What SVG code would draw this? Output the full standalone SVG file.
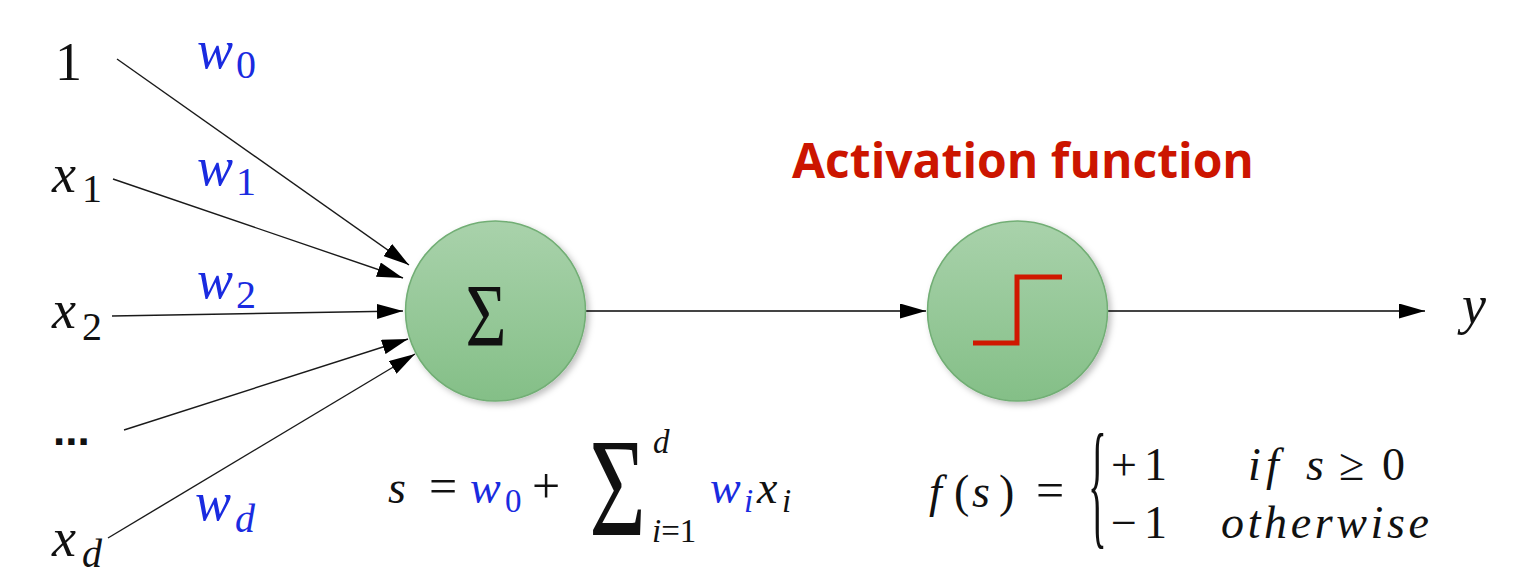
<svg xmlns="http://www.w3.org/2000/svg" width="1517" height="587" viewBox="0 0 1517 587">
<style>
.m{font-family:"Liberation Serif",serif;font-style:italic;fill:#111}
.u{font-family:"Liberation Serif",serif;font-style:normal;fill:#111}
.b{fill:#1a2be0}
.L{font-size:54px}
.S{font-size:40px}
.F{font-size:46px}
.O{font-size:50px}
.fs{font-size:33px}
.ln{stroke:#1a1a1a;stroke-width:1.4;fill:none}
.hl{stroke:#444;stroke-width:2.2;fill:none}
.title{font-family:"Open Sans",sans-serif;font-weight:700;font-size:48px;fill:#cc1500}
</style>
<defs>
<marker id="ah" markerUnits="userSpaceOnUse" markerWidth="26" markerHeight="15" viewBox="0 0 26 15" refX="26" refY="7.5" orient="auto">
<path d="M0,0 L26,7.5 L0,15 z" fill="#000"/>
</marker>
<linearGradient id="g" x1="0" y1="0" x2="0" y2="1">
<stop offset="0" stop-color="#a9d2ab"/>
<stop offset="1" stop-color="#84bf87"/>
</linearGradient>
<filter id="sh" x="-20%" y="-20%" width="140%" height="140%">
<feDropShadow dx="3" dy="3" stdDeviation="3" flood-color="#000" flood-opacity="0.25"/>
</filter>
</defs>

<g id="connectors">
<line class="ln" x1="117" y1="59" x2="409" y2="265" marker-end="url(#ah)"/>
<line class="ln" x1="113" y1="179" x2="403" y2="278" marker-end="url(#ah)"/>
<line class="ln" x1="112" y1="316" x2="403" y2="311" marker-end="url(#ah)"/>
<line class="ln" x1="124" y1="430" x2="408" y2="339" marker-end="url(#ah)"/>
<line class="ln" x1="108" y1="538" x2="415" y2="354" marker-end="url(#ah)"/>
<line class="hl" x1="586" y1="311" x2="926" y2="311" marker-end="url(#ah)"/>
<line class="hl" x1="1108" y1="311" x2="1425" y2="311" marker-end="url(#ah)"/>
</g>

<g id="inputs">
<text class="u L" x="55" y="80">1</text>
<text class="m L" x="52" y="192">x</text><text class="u S" x="82" y="202">1</text>
<text class="m L" x="52" y="328">x</text><text class="u S" x="82" y="340">2</text>
<text x="53" y="445" style="font-family:'Liberation Sans',sans-serif;font-size:44px;font-weight:700;fill:#111">...</text>
<text class="m L" x="52" y="556">x</text><text class="m S" x="82" y="567">d</text>
</g>

<g id="weights">
<text class="m L b" x="197" y="68">w</text><text class="u S b" x="236" y="78">0</text>
<text class="m L b" x="197" y="185">w</text><text class="u S b" x="236" y="195">1</text>
<text class="m L b" x="197" y="298">w</text><text class="u S b" x="236" y="308">2</text>
<text class="m L b" x="195" y="520">w</text><text class="m S b" x="235" y="532">d</text>
</g>

<g id="sum">
<circle cx="495.5" cy="311" r="90" fill="url(#g)" stroke="#72ae75" stroke-width="1.5" filter="url(#sh)"/>
<text class="u" text-anchor="middle" transform="translate(486,345) scale(0.8,1)" style="font-size:88px">Σ</text>
</g>

<g id="activation">
<circle cx="1017.5" cy="311" r="90" fill="url(#g)" stroke="#72ae75" stroke-width="1.5" filter="url(#sh)"/>
<path d="M973,343 H1017 V277 H1062" fill="none" stroke="#d01800" stroke-width="5"/>
</g>

<g id="title">
<text class="title" x="792" y="178">Activation function</text>
</g>

<g id="output">
<text class="m L" x="1462" y="323">y</text>
</g>

<g id="formula-s">
<text class="m F" x="388" y="503">s</text>
<text class="u O" x="429" y="503">=</text>
<text class="m F b" x="470" y="503">w</text><text class="u fs b" x="505" y="512">0</text>
<text class="u O" x="532" y="503">+</text>
<text class="u" text-anchor="middle" transform="translate(617.5,535) scale(0.7,1)" style="font-size:139px">Σ</text>
<text class="m fs" x="653" y="453">d</text>
<text class="m fs" x="652" y="542">i<tspan class="u">=1</tspan></text>
<text class="m F b" x="710" y="503">w</text><text class="m fs b" x="744" y="512">i</text>
<text class="m F" x="757" y="503">x</text><text class="m fs" x="782" y="512">i</text>
</g>

<g id="formula-f">
<text class="m F" x="929" y="507">f<tspan class="u" x="954">(</tspan><tspan x="972">s</tspan><tspan class="u" x="999">)</tspan></text>
<text class="u O" x="1036" y="507">=</text>
<text transform="translate(1088,530) scale(0.28,1)" style="font-family:'Liberation Serif',serif;font-size:140px;fill:#111">{</text>
<text class="u F" x="1111" y="480">+<tspan x="1144">1</tspan></text>
<text class="u F" x="1111" y="538">−<tspan x="1144">1</tspan></text>
<text class="m F" x="1248" y="480">i<tspan x="1266">f</tspan><tspan x="1306">s</tspan><tspan class="u" x="1339">≥</tspan><tspan class="u" x="1382">0</tspan></text>
<text class="m F" x="1221" y="538" textLength="208" lengthAdjust="spacing">otherwise</text>
</g>
</svg>
